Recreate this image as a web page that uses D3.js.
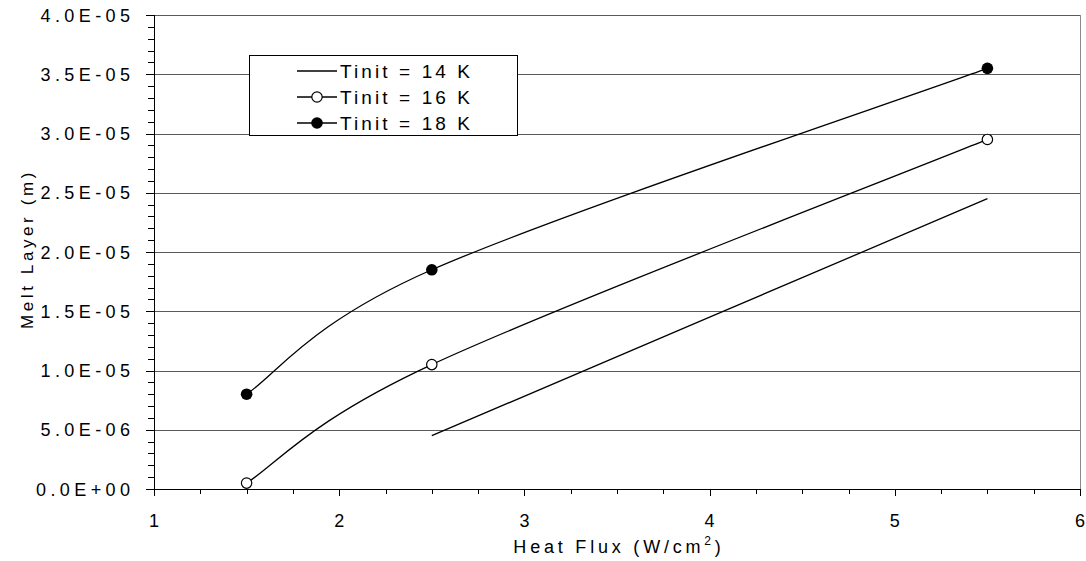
<!DOCTYPE html>
<html><head><meta charset="utf-8">
<script src="https://cdn.jsdelivr.net/npm/d3@7"></script>
<style>body{margin:0;background:#fff}svg{display:block}text{font-family:"Liberation Sans",Arial,sans-serif;fill:#000}</style>
</head><body><svg id="c" width="1086" height="561"></svg>
<script>
const seriesNames = ["Tinit = 14 K", "Tinit = 16 K", "Tinit = 18 K"];
const x14 = [2.5, 5.5];
const y14 = [4.5e-6, 2.45e-5];
const x16 = [1.5, 2.5, 5.5];
const y16 = [5e-7, 1.05e-5, 2.95e-5];
const x18 = [1.5, 2.5, 5.5];
const y18 = [8e-6, 1.85e-5, 3.55e-5];
const xTicks = [1, 2, 3, 4, 5, 6];
const yTickLabels = ["0.0E+00","5.0E-06","1.0E-05","1.5E-05","2.0E-05","2.5E-05","3.0E-05","3.5E-05","4.0E-05"];
const yTicks = yTickLabels.map(Number);

const svg = d3.select("#c");
const L = 154, R = 1080, T = 15, B = 489;
const x = d3.scaleLinear().domain([1, 6]).range([L, R]);
const y = d3.scaleLinear().domain([0, 4e-5]).range([B, T]);

// gridlines
svg.append("g").selectAll("line").data(yTicks.slice(1)).join("line")
  .attr("x1", L).attr("x2", R).attr("y1", d => Math.round(y(d)) + 0.5).attr("y2", d => Math.round(y(d)) + 0.5)
  .attr("stroke", "#5a5a5a").attr("stroke-width", 1);
// right border
svg.append("line").attr("x1", R + 0.5).attr("x2", R + 0.5).attr("y1", T).attr("y2", B)
  .attr("stroke", "#8a8a8a");

// minor ticks
const yMinor = d3.range(0, 41).map(i => i * 1e-6);
svg.append("g").selectAll("line").data(yMinor).join("line")
  .attr("x1", d => (Math.round(d * 1e6) % 5 === 0) ? L - 8 : L - 6).attr("x2", L)
  .attr("y1", d => Math.round(y(d)) + 0.5).attr("y2", d => Math.round(y(d)) + 0.5)
  .attr("stroke", "#000");
const xMinor = d3.range(0, 21).map(i => 1 + i * 0.25);
svg.append("g").selectAll("line").data(xMinor).join("line")
  .attr("x1", d => Math.round(x(d)) + 0.5).attr("x2", d => Math.round(x(d)) + 0.5)
  .attr("y1", B).attr("y2", d => (d % 1 === 0) ? B + 7 : B + 5)
  .attr("stroke", "#000");

// axes lines
svg.append("line").attr("x1", L + 0.5).attr("x2", L + 0.5).attr("y1", T).attr("y2", B).attr("stroke", "#000");
svg.append("line").attr("x1", L).attr("x2", R + 1).attr("y1", B + 0.5).attr("y2", B + 0.5).attr("stroke", "#000");

// tick labels
const yls = 4.4;
svg.append("g").selectAll("text").data(yTicks).join("text")
  .attr("x", 130 + yls).attr("y", d => y(d) + 6.5)
  .attr("text-anchor", "end").attr("font-size", 18).attr("letter-spacing", yls + "px")
  .text((d, i) => yTickLabels[i]);
svg.append("g").selectAll("text").data(xTicks).join("text")
  .attr("x", d => x(d)).attr("y", 527)
  .attr("text-anchor", "middle").attr("font-size", 18)
  .text(d => d);

// axis titles
const xt = svg.append("text").attr("x", 619).attr("y", 553).attr("text-anchor", "middle")
  .attr("font-size", 18).attr("letter-spacing", "3.8px");
xt.append("tspan").text("Heat Flux (W/cm");
xt.append("tspan").attr("dy", -8).attr("font-size", 12).text("2");
xt.append("tspan").attr("dy", 8).text(")");
svg.append("text").attr("transform", "translate(33,249) rotate(-90)").attr("text-anchor", "middle")
  .attr("font-size", 17).attr("letter-spacing", "3.6px").text("Melt Layer (m)");

// smoothed line (Excel-like Catmull-Rom with endpoint tangents along the chord)
function smoothPath(pts) {
  const p = pts.map(d => [x(d[0]), y(d[1])]);
  const path = d3.path();
  path.moveTo(p[0][0], p[0][1]);
  for (let i = 0; i < p.length - 1; i++) {
    const p0 = p[Math.max(0, i - 1)], p1 = p[i], p2 = p[i + 1], p3 = p[Math.min(p.length - 1, i + 2)];
    path.bezierCurveTo(
      p1[0] + (p2[0] - p0[0]) / 6, p1[1] + (p2[1] - p0[1]) / 6,
      p2[0] - (p3[0] - p1[0]) / 6, p2[1] - (p3[1] - p1[1]) / 6,
      p2[0], p2[1]);
  }
  return path.toString();
}
const d14 = x14.map((v, i) => [v, y14[i]]);
const d16 = x16.map((v, i) => [v, y16[i]]);
const d18 = x18.map((v, i) => [v, y18[i]]);
[d14, d16, d18].forEach(d => svg.append("path").attr("d", smoothPath(d)).attr("fill", "none")
  .attr("stroke", "#000").attr("stroke-width", 1.3));
svg.append("g").selectAll("circle").data(d16).join("circle")
  .attr("cx", d => x(d[0])).attr("cy", d => y(d[1])).attr("r", 5.2)
  .attr("fill", "#fff").attr("stroke", "#000").attr("stroke-width", 1.2);
svg.append("g").selectAll("circle").data(d18).join("circle")
  .attr("cx", d => x(d[0])).attr("cy", d => y(d[1])).attr("r", 5.8)
  .attr("fill", "#000");

// legend
const lg = svg.append("g");
lg.append("rect").attr("x", 249.5).attr("y", 55.5).attr("width", 268).attr("height", 80)
  .attr("fill", "#fff").attr("stroke", "#000");
const rows = [71, 97, 123];
seriesNames.forEach((n, i) => {
  lg.append("line").attr("x1", 297).attr("x2", 337).attr("y1", rows[i]).attr("y2", rows[i])
    .attr("stroke", "#000").attr("stroke-width", 1.3);
  if (i === 1) lg.append("circle").attr("cx", 317).attr("cy", rows[i]).attr("r", 5.2)
    .attr("fill", "#fff").attr("stroke", "#000").attr("stroke-width", 1.2);
  if (i === 2) lg.append("circle").attr("cx", 317).attr("cy", rows[i]).attr("r", 5.8).attr("fill", "#000");
  lg.append("text").attr("x", 340).attr("y", rows[i] + 6.5).attr("font-size", 19)
    .attr("letter-spacing", "3.1px").text(n);
});
</script></body></html>
